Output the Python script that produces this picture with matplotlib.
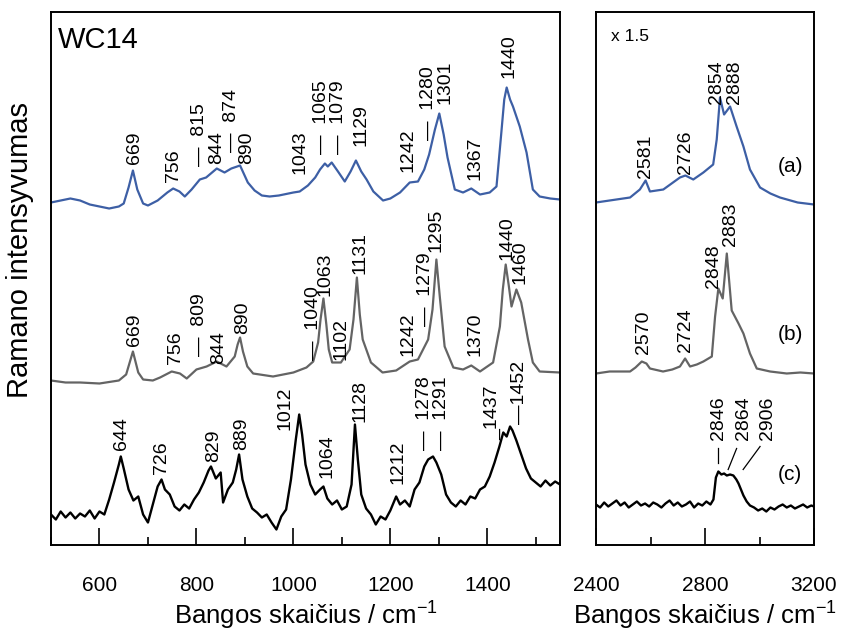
import matplotlib
matplotlib.use("Agg")
import matplotlib.pyplot as plt
from matplotlib.ticker import MultipleLocator

plt.rcParams['font.family'] = ['Liberation Sans', 'DejaVu Sans']

# ---- spectra (intensity in arbitrary, offset units) ----
a_x = [500, 520, 540, 560, 580, 600, 620, 640, 650, 660, 669, 678, 690, 700, 720, 740, 752, 765, 776, 790,
       807, 820, 842, 858, 872, 890, 906, 920, 935, 951, 970, 1000, 1013, 1030, 1045, 1055, 1065, 1071, 1079, 1092,
       1106, 1118, 1129, 1140, 1151, 1165, 1185, 1200, 1220, 1240, 1257, 1270, 1280, 1292, 1301, 1310, 1318, 1333, 1350, 1367,
       1385, 1405, 1419, 1429, 1435, 1440, 1447, 1453, 1467, 1481, 1494, 1508, 1530, 1550]
a_y = [342, 344, 346, 344, 340, 338, 336, 338, 341, 357, 374, 355, 341, 339, 344, 352, 356, 353, 348, 355,
       365, 367, 376, 372, 376, 379, 362, 354, 349, 348, 349, 352, 353, 359, 367, 375, 381, 378, 382, 373,
       363, 373, 384, 373, 365, 353, 344, 346, 352, 362, 363, 375, 390, 415, 431, 410, 387, 355, 352, 356,
       350, 352, 358, 412, 445, 457, 445, 438, 418, 392, 355, 348, 346, 345]

b_x = [500, 530, 560, 600, 640, 655, 669, 680, 690, 710, 725, 749, 766, 780, 800, 821, 842, 862, 879, 885,
       890, 896, 905, 917, 958, 1000, 1027, 1041, 1051, 1056, 1062, 1068, 1073, 1080, 1098, 1116, 1124, 1131, 1137, 1143,
       1160, 1184, 1212, 1240, 1257, 1278, 1287, 1295, 1302, 1312, 1330, 1350, 1367, 1385, 1412, 1426, 1432, 1438, 1444, 1450,
       1460, 1470, 1484, 1494, 1508, 1550]
b_y = [164, 162, 162, 161, 164, 170, 193, 172, 165, 164, 167, 173, 171, 166, 175, 178, 183, 178, 188, 200,
       207, 193, 178, 171, 168, 172, 177, 183, 202, 225, 246, 220, 195, 182, 182, 195, 225, 267, 230, 205,
       182, 172, 174, 183, 185, 205, 235, 285, 248, 198, 177, 175, 179, 173, 182, 218, 255, 280, 260, 238,
       255, 242, 205, 182, 173, 172]

c_x = [500, 510, 520, 530, 540, 550, 560, 570, 580, 590,
       600, 610, 620, 630, 640, 644, 650, 660, 670, 680,
       690, 700, 710, 720, 728, 735, 745, 755, 765, 775,
       785, 795, 805, 815, 825, 830, 840, 850, 855, 865,
       875, 882, 888, 895, 905, 915, 925, 935, 945, 955,
       965, 975, 985, 995, 1005, 1012, 1018, 1025, 1035, 1045,
       1055, 1062, 1070, 1080, 1090, 1100, 1110, 1120, 1127, 1133,
       1140, 1150, 1160, 1170, 1180, 1190, 1200, 1212, 1220, 1230,
       1240, 1250, 1260, 1270, 1278, 1288, 1295, 1305, 1315, 1325,
       1335, 1345, 1355, 1365, 1375, 1385, 1395, 1405, 1415, 1425,
       1433, 1440, 1447, 1452, 1460, 1470, 1480, 1490, 1500, 1510,
       1520, 1530, 1540, 1550]
c_y = [30, 25, 33, 27, 32, 26, 31, 28, 34, 26,
       33, 30, 45, 62, 80, 88, 76, 55, 44, 48,
       30, 22, 40, 58, 65, 55, 50, 38, 34, 40,
       36, 45, 52, 62, 74, 78, 66, 72, 42, 55,
       62, 75, 90, 65, 48, 36, 32, 27, 30, 22,
       15, 28, 35, 65, 105, 130, 110, 80, 60, 50,
       55, 58, 46, 40, 44, 35, 38, 60, 120, 85,
       50, 36, 30, 20, 28, 25, 34, 48, 40, 44,
       38, 55, 62, 78, 85, 88, 82, 70, 50, 42,
       38, 44, 40, 48, 46, 55, 58, 68, 82, 98,
       112, 108, 118, 114, 104, 90, 76, 66, 62, 58,
       64, 59, 63, 60]

ra_x = [2400, 2450, 2525, 2561, 2582, 2598, 2647, 2708, 2728, 2757, 2794, 2830, 2843, 2855, 2870, 2892, 2916, 2941, 2965, 3002,
        3040, 3075, 3140, 3200]
ra_y = [342, 344, 347, 355, 364, 353, 355, 367, 369, 365, 372, 380, 405, 447, 430, 438, 418, 398, 375, 357,
        351, 347, 342, 340]

rb_x = [2400, 2450, 2525, 2545, 2568, 2585, 2598, 2646, 2680, 2708, 2727, 2745, 2770, 2794, 2825, 2837, 2849, 2865, 2880, 2898,
        2923, 2941, 2965, 2990, 3039, 3100, 3150, 3200]
rb_y = [171, 173, 173, 177, 183, 181, 176, 173, 175, 178, 186, 178, 180, 183, 188, 228, 256, 246, 291, 234,
        221, 211, 191, 176, 173, 171, 172, 171]

rc_x = [2400, 2415, 2430, 2445, 2460, 2475, 2490, 2505, 2520, 2535,
        2550, 2565, 2580, 2595, 2610, 2625, 2640, 2655, 2670, 2685,
        2700, 2715, 2730, 2745, 2760, 2775, 2790, 2805, 2820, 2831,
        2840, 2849, 2860, 2870, 2880, 2892, 2904, 2915, 2923, 2932,
        2941, 2953, 2965, 2980, 2995, 3010, 3025, 3040, 3055, 3070,
        3085, 3100, 3115, 3130, 3145, 3160, 3175, 3190, 3200]
rc_y = [40, 37, 42, 38, 41, 44, 39, 42, 37, 40,
        43, 39, 41, 38, 42, 40, 37, 41, 44, 39,
        42, 38, 40, 43, 37, 41, 39, 43, 40, 45,
        67, 73, 70, 71, 69, 70, 69, 65, 61, 55,
        49, 43, 39, 37, 34, 36, 33, 37, 35, 38,
        40, 37, 39, 36, 38, 40, 37, 39, 38]

# ---- peak labels: text, x, y (bottom of rotated text) ----
a_lab = ["669", "756", "—  815", "844", "—  874", "890", "1043", "—  1065", "—  1079", "1129",
         "1242", "—  1280", "1301", "1367", "1440"]
a_lx = [673, 752, 807, 841, 873, 903, 1013, 1059, 1093, 1140, 1237, 1278, 1312, 1374, 1445]
a_ly = [380, 362, 378, 381, 392, 381, 371, 390, 390, 398, 373, 405, 441, 365, 466]

b_lab = ["669", "756", "—  809", "844", "890", "—  1040", "1063", "1102", "1131", "1242",
         "—  1279", "1295", "1370", "1440", "1460"]
b_lx = [673, 756, 807, 845, 896, 1041, 1066, 1099, 1137, 1237, 1273, 1295, 1374, 1440, 1467]
b_ly = [198, 181, 188, 181, 210, 185, 248, 185, 271, 188, 218, 293, 188, 285, 260]

c_lab = ["644", "726", "829", "889", "1012", "1064", "1128", "1212", "—  1278", "—  1291",
         "_1437", "—1452"]
c_lx = [646, 728, 835, 893, 983, 1069, 1137, 1216, 1270, 1305, 1412, 1467]
c_ly = [95, 70, 83, 95, 115, 66, 123, 60, 95, 95, 104, 121]

ra_lab = ["2581", "2726", "2854", "2888"]
ra_lx = [2580, 2727, 2843, 2910]
ra_ly = [366, 371, 441, 440]

rb_lab = ["2570", "2724", "2848", "2883"]
rb_lx = [2574, 2730, 2831, 2892]
rb_ly = [190, 193, 256, 298]

rc_lab = ["2846", "2864", "2906"]
rc_lx = [2848, 2943, 3031]
rc_ly = [105, 105, 105]
lead_x = [[2848, 2848], [2885, 2916], [2940, 3002]]
lead_y = [[82, 97], [75, 96], [75, 98]]

BLUE, GRAY, BLACK = "#3d5fa5", "#646464", "#000000"
YMAX = 532.5

fig = plt.figure(figsize=(8.41, 6.32), dpi=100)
axL = fig.add_axes([51 / 841, 87.5 / 632, 509 / 841, YMAX / 632])
axR = fig.add_axes([596 / 841, 87.5 / 632, 218 / 841, YMAX / 632])

axL.plot(a_x, a_y, color=BLUE, lw=1.6)
axL.plot(b_x, b_y, color=GRAY, lw=1.6)
axL.plot(c_x, c_y, color=BLACK, lw=1.7)
axR.plot(ra_x, ra_y, color=BLUE, lw=1.6)
axR.plot(rb_x, rb_y, color=GRAY, lw=1.6)
axR.plot(rc_x, rc_y, color=BLACK, lw=1.7)
for lx, ly in zip(lead_x, lead_y):
    axR.plot(lx, ly, color=BLACK, lw=0.9)

for ax, labs in [(axL, [(a_lab, a_lx, a_ly), (b_lab, b_lx, b_ly), (c_lab, c_lx, c_ly)]),
                 (axR, [(ra_lab, ra_lx, ra_ly), (rb_lab, rb_lx, rb_ly), (rc_lab, rc_lx, rc_ly)])]:
    for txt, xs, ys in labs:
        for t, x, y in zip(txt, xs, ys):
            ax.text(x, y, t, rotation=90, ha="center", va="bottom", fontsize=14)

axL.text(514, 504, "WC14", fontsize=21, va="center", ha="left")
axR.text(2455, 508, "x 1.5", fontsize=12.5, va="center", ha="left")
for t, y in [("(a)", 378), ("(b)", 210), ("(c)", 70)]:
    axR.text(3112, y, t, fontsize=15, ha="center", va="center")

axL.set_xlim(500, 1550)
axR.set_xlim(2400, 3200)
axL.xaxis.set_major_locator(MultipleLocator(200))
axL.xaxis.set_minor_locator(MultipleLocator(100))
axR.xaxis.set_major_locator(MultipleLocator(400))
axR.xaxis.set_minor_locator(MultipleLocator(200))
axL.set_xticks([600, 800, 1000, 1200, 1400])
for ax in (axL, axR):
    ax.set_ylim(0, YMAX)
    ax.set_yticks([])
    ax.tick_params(axis="x", which="both", direction="in", top=False, width=1.2, pad=23, labelsize=15)
    ax.tick_params(axis="x", which="major", length=12)
    ax.tick_params(axis="x", which="minor", length=6)
    for s in ax.spines.values():
        s.set_linewidth(1.4)
    ax.set_xlabel("Bangos skaičius / cm$^{\\mathregular{-1}}$", fontsize=18.5, labelpad=2)

fig.text(20 / 841, 1 - 250 / 632, "Ramano intensyvumas", rotation=90, fontsize=21, ha="center", va="center")
fig.savefig("out.png", dpi=100)
